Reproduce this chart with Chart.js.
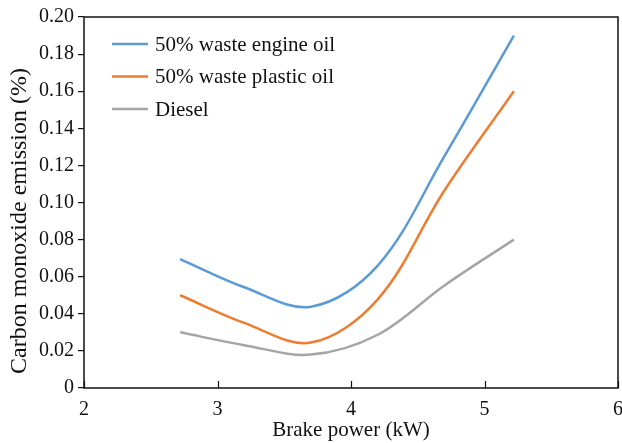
<!DOCTYPE html>
<html>
<head>
<meta charset="utf-8">
<script src="https://cdn.jsdelivr.net/npm/chart.js@4"></script>
<style>
  body { margin: 0; background: #fff; }
  #wrap { width: 622px; height: 443px; }
</style>
</head>
<body>
<div id="wrap"><canvas id="co-chart" width="622" height="443"></canvas></div>
<script>
// brake power (kW) and CO emission (%)
let power = [2.72, 3.2, 3.7, 4.2, 4.7, 5.22];
let engineOil = [0.0695, 0.0543, 0.0438, 0.0660, 0.1250, 0.1900];
let plasticOil = [0.0500, 0.0351, 0.0245, 0.0478, 0.1065, 0.1600];
let diesel = [0.0300, 0.0231, 0.0180, 0.0287, 0.0553, 0.0800];
let seriesNames = ["50% waste engine oil", "50% waste plastic oil", "Diesel"];
let colors = ["#5B9BD5", "#ED7D31", "#A5A5A5"];
let xTicks = [2, 3, 4, 5, 6];
let yTicks = [0, 0.02, 0.04, 0.06, 0.08, 0.10, 0.12, 0.14, 0.16, 0.18, 0.20];
let xTitle = "Brake power (kW)";
let yTitle = "Carbon monoxide emission (%)";

const serif = "'Liberation Serif', 'Times New Roman', serif";

function toPoints(values) {
    return values.map((v, i) => ({ x: power[i], y: v }));
}

// frame, inward x ticks, y title and legend
const extras = {
    id: "extras",
    afterDraw(chart) {
        const ctx = chart.ctx;
        const area = chart.chartArea;
        const xs = chart.scales.x;
        ctx.save();
        ctx.strokeStyle = "#111";
        ctx.lineWidth = 1.5;
        ctx.strokeRect(area.left, area.top, area.right - area.left, area.bottom - area.top);

        ctx.beginPath();
        xTicks.forEach(t => {
            const px = Math.round(xs.getPixelForValue(t)) + 0.5;
            ctx.moveTo(px, area.bottom);
            ctx.lineTo(px, area.bottom - 7);
        });
        ctx.lineWidth = 1.2;
        ctx.stroke();

        ctx.fillStyle = "#111";
        ctx.font = "24px " + serif;
        ctx.textAlign = "center";
        ctx.textBaseline = "middle";
        ctx.translate(20, 221);
        ctx.rotate(-Math.PI / 2);
        ctx.fillText(yTitle, 0, 0);
        ctx.restore();

        ctx.save();
        ctx.font = "21px " + serif;
        ctx.textBaseline = "middle";
        ctx.textAlign = "left";
        chart.data.datasets.forEach((ds, i) => {
            const y = 44 + i * 32.5;
            ctx.strokeStyle = ds.borderColor;
            ctx.lineWidth = 2.5;
            ctx.beginPath();
            ctx.moveTo(112, y);
            ctx.lineTo(148, y);
            ctx.stroke();
            ctx.fillStyle = "#111";
            ctx.fillText(ds.label, 155, y + 1);
        });
        ctx.restore();
    }
};

let ctxLine = document.getElementById("co-chart").getContext("2d");
let chart = new Chart(ctxLine, {
    type: "line",
    data: {
        datasets: [
            { label: seriesNames[0], data: toPoints(engineOil), borderColor: colors[0] },
            { label: seriesNames[1], data: toPoints(plasticOil), borderColor: colors[1] },
            { label: seriesNames[2], data: toPoints(diesel), borderColor: colors[2] }
        ]
    },
    options: {
        responsive: false,
        animation: false,
        layout: { padding: { left: 0, top: 17, right: 4, bottom: 0 } },
        elements: {
            point: { radius: 0 },
            line: { borderWidth: 2.5, tension: 0.35, fill: false }
        },
        plugins: {
            legend: { display: false },
            tooltip: { enabled: false }
        },
        scales: {
            x: {
                type: "linear",
                min: 2,
                max: 6,
                afterBuildTicks: s => { s.ticks = xTicks.map(v => ({ value: v })); },
                afterFit: s => { s.height = 55; s.paddingLeft = 0; s.paddingRight = 0; },
                grid: { display: false, drawTicks: false },
                border: { display: false },
                ticks: { color: "#111", padding: 10, font: { family: serif, size: 20 } },
                title: { display: true, text: xTitle, color: "#111", padding: 0, font: { family: serif, size: 21 } }
            },
            y: {
                min: 0,
                max: 0.2,
                afterBuildTicks: s => { s.ticks = yTicks.map(v => ({ value: v })); },
                afterFit: s => { s.width = 84; s.paddingTop = 0; s.paddingBottom = 0; },
                grid: { drawOnChartArea: false, tickLength: 6, color: "#111", lineWidth: 1.2 },
                border: { display: false },
                ticks: {
                    color: "#111",
                    padding: 4,
                    font: { family: serif, size: 20 },
                    callback: v => v === 0 ? "0" : v.toFixed(2)
                }
            }
        }
    },
    plugins: [extras]
});
</script>
</body>
</html>
